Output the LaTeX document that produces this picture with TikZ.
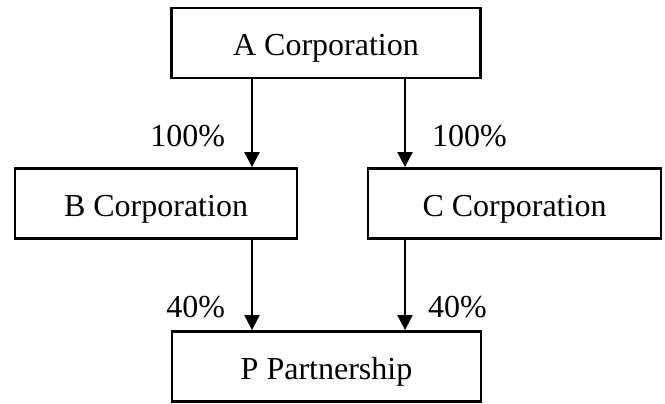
\documentclass[tikz,border=0pt]{standalone}
\usepackage{fontspec}
\setmainfont{Liberation Serif}
\usetikzlibrary{arrows.meta, positioning}
\tikzset{
  entity/.style = {rectangle, minimum height=70pt, text height=25pt, text depth=0pt, text centered, draw=black, line width=2.8pt, inner sep=0pt, font=\fontsize{32}{38}\selectfont},
  share/.style = {inner sep=0pt, font=\fontsize{32}{38}\selectfont},
  edge/.style = {line width=2pt, -{Triangle[length=15pt, width=15pt]}}
}

\begin{document}
\begin{tikzpicture}[x=1pt, y=-1pt]
\useasboundingbox (0,0) rectangle (665,404);

\node (A) [entity, minimum width=309pt] at (326,43) {A Corporation};
\node (B) [entity, minimum width=282pt] at (156,203.5) {B Corporation};
\node (C) [entity, minimum width=293pt] at (514.5,203.5) {C Corporation};
\node (P) [entity, minimum width=309pt] at (326.5,366.5) {P Partnership};

\draw [edge] ([xshift=-74pt]A.south) -- node[share, pos=0.65, anchor=east, xshift=-26pt]{100\%} ([xshift=-74pt]A.south |- B.north);
\draw [edge] ([xshift=79pt]A.south) -- node[share, pos=0.65, anchor=west, xshift=26pt]{100\%} ([xshift=79pt]A.south |- C.north);
\draw [edge] ([xshift=-74.5pt]P.north |- B.south) -- node[share, pos=0.74, anchor=east, xshift=-26pt]{40\%} ([xshift=-74.5pt]P.north);
\draw [edge] ([xshift=78.5pt]P.north |- C.south) -- node[share, pos=0.74, anchor=west, xshift=22pt]{40\%} ([xshift=78.5pt]P.north);

\end{tikzpicture}
\end{document}
